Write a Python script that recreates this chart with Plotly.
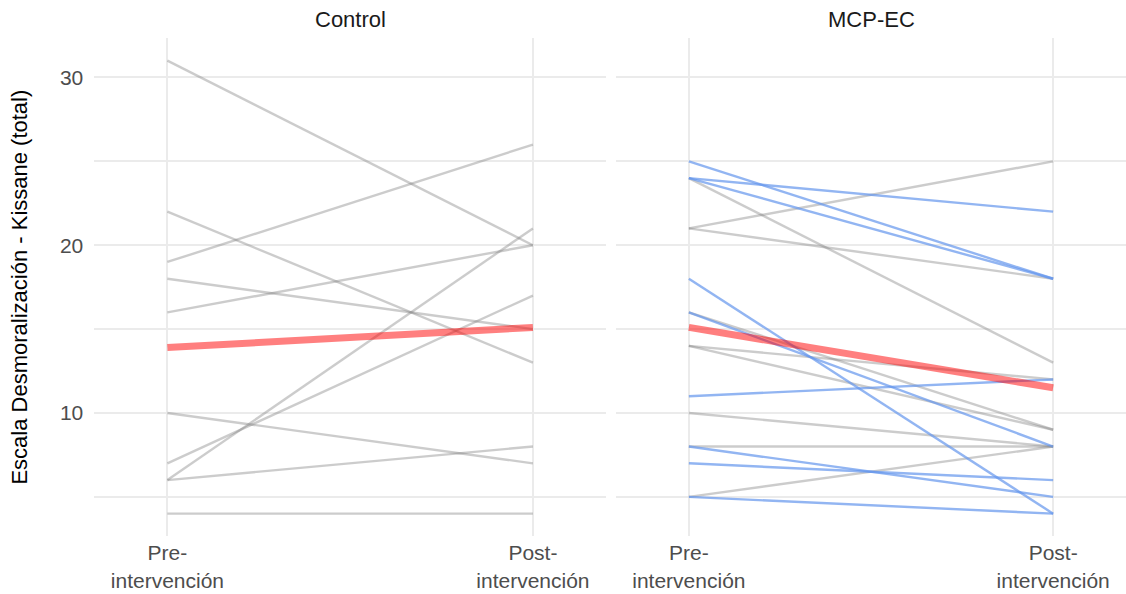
import plotly.graph_objects as go

# ---- data ----
time_labels = ["Pre-<br>intervención", "Post-<br>intervención"]
time_pos = [0, 1]

# Control group (all grey)
control_pre = [31, 22, 19, 18, 16, 10, 7, 6, 6, 4]
control_post = [20, 13, 26, 15, 20, 7, 17, 21, 8, 4]

# MCP-EC group: grey participants
mcp_grey_pre = [21, 21, 24, 16, 14, 14, 10, 8, 5]
mcp_grey_post = [25, 18, 13, 9, 12, 9, 8, 8, 8]
# MCP-EC group: blue participants
mcp_blue_pre = [25, 24, 24, 18, 16, 11, 8, 7, 5]
mcp_blue_post = [18, 22, 18, 4, 8, 12, 5, 6, 4]

# group means (red lines)
control_mean = [13.9, 15.1]
mcp_mean = [15.1, 11.5]

panel_titles = ["Control", "MCP-EC"]
y_title = "Escala Desmoralización - Kissane (total)"

# ---- styles ----
GREY = "rgba(127,127,127,0.4)"
BLUE = "rgba(100,149,237,0.7)"
RED = "rgba(255,0,0,0.5)"
GRID = "#ebebeb"
FONT = "Liberation Sans"

fig = go.Figure()

def add_lines(pre, post, color, xa, ya, width=2.4):
    for a, b in zip(pre, post):
        fig.add_trace(go.Scatter(x=time_pos, y=[a, b], mode="lines",
                                 line=dict(color=color, width=width),
                                 xaxis=xa, yaxis=ya, showlegend=False,
                                 hoverinfo="skip"))

add_lines(control_pre, control_post, GREY, "x", "y")
add_lines(mcp_grey_pre, mcp_grey_post, GREY, "x2", "y2")
add_lines(mcp_blue_pre, mcp_blue_post, BLUE, "x2", "y2")
add_lines([control_mean[0]], [control_mean[1]], RED, "x", "y", width=7)
add_lines([mcp_mean[0]], [mcp_mean[1]], RED, "x2", "y2", width=7)

W, H = 1126, 594
left_dom = [94.3 / W, 606 / W]
right_dom = [616 / W, 1.0]
y_dom = [(H - 536.3) / H, (H - 38.0) / H]
y_range = [2.65, 32.35]

xcommon = dict(range=[-0.2, 1.2], tickvals=time_pos, ticktext=time_labels,
               showgrid=True, gridcolor=GRID, gridwidth=1.6, zeroline=False,
               showline=False, ticks="", ticklabelstandoff=2,
               tickfont=dict(family=FONT, size=21, color="#4d4d4d"))
ycommon = dict(range=y_range, domain=y_dom, tickvals=[10, 20, 30],
               showgrid=True, gridcolor=GRID, gridwidth=1.6, zeroline=False,
               showline=False, ticks="",
               minor=dict(dtick=5, tick0=0, showgrid=True, gridcolor=GRID, gridwidth=1.6),
               tickfont=dict(family=FONT, size=21, color="#4d4d4d"))

fig.update_layout(
    width=W, height=H,
    margin=dict(l=0, r=0, t=0, b=0),
    paper_bgcolor="white", plot_bgcolor="white",
    xaxis=dict(domain=left_dom, anchor="y", **xcommon),
    xaxis2=dict(domain=right_dom, anchor="y2", **xcommon),
    yaxis=dict(anchor="x", ticklabelstandoff=10,
               title=dict(text=y_title, standoff=26,
                          font=dict(family=FONT, size=22, color="black")),
               **ycommon),
    yaxis2=dict(anchor="x2", matches="y", showticklabels=False, **ycommon),
    showlegend=False,
)

for i, t in enumerate(panel_titles):
    dom = left_dom if i == 0 else right_dom
    fig.add_annotation(text=t, x=(dom[0] + dom[1]) / 2, y=(H - 20) / H,
                       xref="paper", yref="paper", showarrow=False,
                       xanchor="center", yanchor="middle",
                       font=dict(family=FONT, size=22, color="#1a1a1a"))

fig.write_html("out.html")
